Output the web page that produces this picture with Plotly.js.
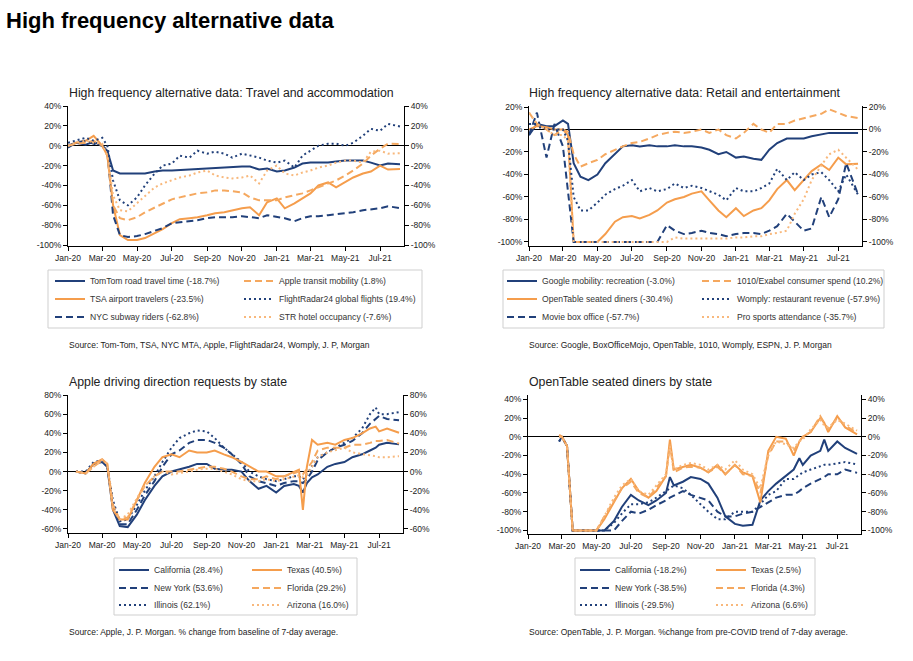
<!DOCTYPE html>
<html><head><meta charset="utf-8">
<script src="https://cdn.plot.ly/plotly-3.0.1.min.js"></script>
<style>html,body{margin:0;padding:0;background:#fff}#chart{width:913px;height:661px}</style>
</head><body><div id="chart"></div>
<script>
// ---------- dates ----------
const datesTop = ['2020-01-01','2020-01-15','2020-02-01','2020-02-15','2020-03-01','2020-03-10','2020-03-20','2020-04-01','2020-04-15','2020-05-01','2020-05-15','2020-06-01','2020-06-15','2020-07-01','2020-07-15','2020-08-01','2020-08-15','2020-09-01','2020-09-15','2020-10-01','2020-10-15','2020-11-01','2020-11-15','2020-12-01','2020-12-15','2021-01-01','2021-01-15','2021-02-01','2021-02-15','2021-03-01','2021-03-15','2021-04-01','2021-04-15','2021-05-01','2021-05-15','2021-06-01','2021-06-15','2021-07-01','2021-07-15','2021-08-05'];
const datesApple = ['2020-01-15','2020-02-01','2020-02-15','2020-03-01','2020-03-10','2020-03-20','2020-04-01','2020-04-15','2020-05-01','2020-05-15','2020-06-01','2020-06-15','2020-07-01','2020-07-15','2020-08-01','2020-08-15','2020-09-01','2020-09-15','2020-10-01','2020-10-15','2020-11-01','2020-11-15','2020-12-01','2020-12-15','2021-01-01','2021-01-15','2021-02-01','2021-02-10','2021-02-17','2021-02-24','2021-03-05','2021-03-15','2021-04-01','2021-04-15','2021-05-01','2021-05-15','2021-06-01','2021-06-15','2021-06-25','2021-07-01','2021-07-15','2021-08-05'];
const datesOT = ['2020-02-25','2020-03-01','2020-03-10','2020-03-20','2020-04-01','2020-04-15','2020-05-01','2020-05-15','2020-06-01','2020-06-15','2020-07-01','2020-07-15','2020-08-01','2020-08-15','2020-09-01','2020-09-08','2020-09-15','2020-10-01','2020-10-15','2020-11-01','2020-11-15','2020-12-01','2020-12-15','2021-01-01','2021-01-15','2021-02-01','2021-02-15','2021-03-01','2021-03-15','2021-04-01','2021-04-15','2021-04-25','2021-05-01','2021-05-15','2021-06-01','2021-06-08','2021-06-15','2021-07-01','2021-07-15','2021-08-05'];

// ---------- chart 1: travel and accommodation ----------
const tomtom = [-2,3,1,4,0,-5,-25,-28,-28,-28,-28,-26,-25,-25,-24.5,-24,-23.5,-23,-23,-22,-21.5,-21,-21,-24,-23,-26,-25,-22,-18,-17,-17,-17,-16,-15,-15,-15,-17,-20,-18,-18.7];
const tsa = [0,3,5,10,0,-10,-60,-90,-95,-95,-93,-88,-84,-78,-74,-73,-72,-70,-68,-67,-65,-63,-62,-70,-57,-53,-63,-58,-53,-48,-40,-37,-42,-37,-32,-28,-26,-20,-24,-23.5];
const nycSubway = [0,3,5,2,0,-5,-70,-90,-92,-91,-89,-86,-83,-78,-77,-76,-75,-73,-72,-72,-72,-71,-72,-73,-70,-72,-73,-76,-73,-71,-71,-70,-69,-68,-67,-65,-64,-63,-61,-62.8];
const appleTransit = [0,2,3,5,0,-10,-60,-73,-75,-72,-67,-62,-58,-54,-52,-50,-48,-47,-45,-45,-46,-47,-52,-55,-55,-55,-52,-50,-48,-45,-42,-38,-35,-30,-25,-18,-10,-3,2,1.8];
const flightRadar = [3,5,8,5,8,0,-35,-55,-60,-52,-40,-28,-20,-18,-10,-12,-5,-8,-6,-8,-12,-8,-10,-12,-15,-17,-15,-22,-10,-5,0,2,2,0,3,10,17,15,22,19.4];
const strHotel = [0,3,5,3,2,-10,-50,-65,-66,-58,-50,-42,-38,-35,-32,-30,-27,-25,-30,-32,-33,-32,-30,-38,-25,-20,-28,-30,-27,-25,-22,-20,-17,-15,-15,-17,-6,-5,-8,-7.6];

// ---------- chart 2: retail and entertainment ----------
const googleRec = [-5,5,3,3,8,5,-30,-42,-45,-40,-30,-22,-15,-14,-15,-14,-15,-15,-14,-15,-15,-16,-18,-22,-20,-25,-24,-26,-27,-18,-12,-8,-8,-8,-6,-4,-3,-3,-3,-3];
const openTable = [0,3,2,0,0,-5,-100,-100,-100,-100,-93,-82,-78,-77,-79,-76,-72,-65,-62,-60,-57,-55,-63,-72,-78,-70,-77,-72,-70,-63,-53,-45,-54,-45,-37,-31,-36,-25,-31,-30.4];
const movieBox = [-5,15,-25,5,-15,-55,-100,-100,-100,-100,-100,-100,-100,-100,-100,-100,-100,-85,-90,-93,-92,-90,-92,-93,-95,-93,-92,-92,-93,-90,-86,-75,-82,-90,-88,-60,-78,-62,-30,-57.7];
const exabel = [15,5,0,-5,0,-2,-22,-33,-30,-27,-22,-18,-15,-12,-11,-8,-5,-3,-2,-3,-2,0,-3,0,-5,-8,-3,5,0,-3,5,5,8,10,12,14,18,15,12,10.2];
const womply = [5,5,0,0,0,-10,-60,-72,-72,-65,-58,-53,-50,-45,-55,-52,-55,-53,-48,-52,-50,-52,-55,-58,-63,-52,-55,-55,-52,-48,-35,-45,-38,-45,-40,-38,-45,-55,-40,-57.9];
const proSports = [15,5,0,-5,-5,-10,-100,-100,-100,-100,-100,-100,-100,-100,-100,-100,-100,-100,-96,-97,-97,-97,-97,-97,-97,-96,-96,-95,-95,-93,-92,-90,-75,-62,-45,-32,-22,-18,-25,-35.7];

// ---------- chart 3: Apple driving by state ----------
const caDrive = [0,-2,8,10,5,-40,-57,-58,-45,-30,-15,-5,0,2,5,8,8,3,2,2,0,-10,-18,-15,-22,-15,-13,-15,-22,-12,-6,-3,5,8,10,15,18,22,25,28,30,28.4];
const nyDrive = [0,-2,8,12,5,-35,-55,-55,-40,-25,-10,5,18,22,30,33,33,30,25,18,8,-5,-10,-12,-15,-12,-10,-10,-12,-8,0,12,20,25,28,32,40,50,55,58,55,53.6];
const ilDrive = [0,0,10,12,5,-30,-52,-50,-35,-20,-5,10,25,35,40,43,42,35,25,18,10,0,-5,-8,-10,-8,-5,-5,-8,-3,5,15,20,25,30,35,45,60,67,60,60,62.1];
const txDrive = [0,-2,8,13,8,-40,-50,-50,-30,-12,5,15,18,15,22,20,20,22,18,15,10,5,0,0,-5,-5,0,2,-40,5,33,28,30,28,33,35,40,45,47,42,45,40.5];
const flDrive = [0,-2,5,12,8,-35,-50,-48,-30,-15,-5,0,0,0,2,3,5,5,3,0,-5,-8,-8,-5,-8,-5,-2,0,-3,3,10,22,25,25,25,28,28,30,32,32,33,29.2];
const azDrive = [0,-2,5,12,8,-38,-50,-45,-28,-15,-5,0,-3,-2,0,2,3,3,0,-3,-8,-10,-10,-8,-10,-8,-5,-4,-6,-3,5,15,20,22,25,20,18,17,16,15,15,16];

// ---------- chart 4: OpenTable by state ----------
const caDine = [0,0,-10,-100,-100,-100,-100,-100,-90,-75,-62,-68,-73,-68,-60,-43,-52,-48,-43,-45,-50,-65,-85,-93,-95,-94,-68,-58,-50,-42,-35,-23,-30,-20,-15,-3,-15,-5,-12,-18.2];
const nyDine = [-5,0,-10,-100,-100,-100,-100,-100,-100,-90,-80,-82,-78,-73,-68,-65,-63,-58,-62,-65,-68,-80,-85,-85,-82,-80,-75,-70,-65,-62,-62,-58,-55,-50,-45,-43,-40,-40,-35,-38.5];
const ilDine = [-5,0,-10,-100,-100,-100,-100,-100,-92,-82,-72,-72,-70,-65,-58,-55,-52,-55,-62,-72,-80,-88,-88,-80,-80,-80,-72,-62,-58,-45,-45,-40,-38,-35,-32,-30,-30,-28,-27,-29.5];
const txDine = [2,0,-10,-100,-100,-100,-100,-88,-70,-55,-45,-58,-65,-58,-42,-3,-35,-32,-30,-33,-38,-30,-40,-30,-38,-42,-70,-15,0,-2,-20,-5,0,5,20,15,5,22,10,2.5];
const flDine = [0,0,-10,-100,-100,-100,-100,-85,-68,-55,-48,-60,-65,-55,-42,-8,-38,-33,-32,-33,-38,-32,-40,-30,-40,-42,-60,-20,-5,-5,-15,-5,0,5,22,15,8,20,12,4.3];
const azDine = [0,0,-10,-100,-100,-100,-100,-85,-65,-52,-45,-58,-62,-52,-40,-10,-35,-30,-28,-30,-35,-30,-35,-25,-35,-40,-55,-18,-5,-8,-12,-5,-3,8,18,12,10,18,14,6.6];

// ---------- tick labels ----------
const xTickVals = ['2020-01-01','2020-03-01','2020-05-01','2020-07-01','2020-09-01','2020-11-01','2021-01-01','2021-03-01','2021-05-01','2021-07-01'];
const xTickText = ['Jan-20','Mar-20','May-20','Jul-20','Sep-20','Nov-20','Jan-21','Mar-21','May-21','Jul-21'];
const yTicks1 = [-100,-80,-60,-40,-20,0,20,40];
const yText1 = ['-100%','-80%','-60%','-40%','-20%','0%','20%','40%'];
const yTicks2 = [-100,-80,-60,-40,-20,0,20];
const yText2 = ['-100%','-80%','-60%','-40%','-20%','0%','20%'];
const yTicks3 = [-60,-40,-20,0,20,40,60,80];
const yText3 = ['-60%','-40%','-20%','0%','20%','40%','60%','80%'];
const yTicks4 = [-100,-80,-60,-40,-20,0,20,40];
const yText4 = ['-100%','-80%','-60%','-40%','-20%','0%','20%','40%'];

// ---------- styles ----------
const NAVY = '#21407a', ORANGE = '#f59d4c', ORANGE2 = '#f5a85f', ORANGE3 = '#f8b87c';
const DASH = '7px,4px', DOT = '2px,3px';
const FONT = 'Liberation Sans, Arial, sans-serif';

const W = 913, H = 661;
const px = v => v / W, py = v => 1 - v / H;

// legend slot positions: [legend id, legend x, row centre y]
const legendSlots = [];
function tr(x, y, name, color, dash, xa, ya, lx, ly) {
  const id = 'legend' + (legendSlots.length ? legendSlots.length + 1 : '');
  legendSlots.push([id, lx, ly]);
  return {type:'scatter', mode:'lines', x:x, y:y, name:name, xaxis:xa, yaxis:ya, legend:id,
    line:{color:color, width:2, dash:dash}, hoverinfo:'skip'};
}
const R1 = [281, 299, 317], R2 = [570, 588, 605];
const traces = [
  tr(datesTop, tomtom, 'TomTom road travel time (-18.7%)', NAVY, 'solid', 'x', 'y', 50, R1[0]),
  tr(datesTop, tsa, 'TSA airport travelers (-23.5%)', ORANGE, 'solid', 'x', 'y', 50, R1[1]),
  tr(datesTop, nycSubway, 'NYC subway riders (-62.8%)', NAVY, DASH, 'x', 'y', 50, R1[2]),
  tr(datesTop, appleTransit, 'Apple transit mobility (1.8%)', ORANGE2, DASH, 'x', 'y', 239, R1[0]),
  tr(datesTop, flightRadar, 'FlightRadar24 global flights (19.4%)', NAVY, DOT, 'x', 'y', 239, R1[1]),
  tr(datesTop, strHotel, 'STR hotel occupancy (-7.6%)', ORANGE3, DOT, 'x', 'y', 239, R1[2]),

  tr(datesTop, googleRec, 'Google mobility: recreation (-3.0%)', NAVY, 'solid', 'x2', 'y2', 502, R1[0]),
  tr(datesTop, openTable, 'OpenTable seated diners (-30.4%)', ORANGE, 'solid', 'x2', 'y2', 502, R1[1]),
  tr(datesTop, movieBox, 'Movie box office (-57.7%)', NAVY, DASH, 'x2', 'y2', 502, R1[2]),
  tr(datesTop, exabel, '1010/Exabel consumer spend (10.2%)', ORANGE2, DASH, 'x2', 'y2', 697, R1[0]),
  tr(datesTop, womply, 'Womply: restaurant revenue (-57.9%)', NAVY, DOT, 'x2', 'y2', 697, R1[1]),
  tr(datesTop, proSports, 'Pro sports attendance (-35.7%)', ORANGE3, DOT, 'x2', 'y2', 697, R1[2]),

  tr(datesApple, caDrive, 'California (28.4%)', NAVY, 'solid', 'x3', 'y3', 114, R2[0]),
  tr(datesApple, nyDrive, 'New York (53.6%)', NAVY, DASH, 'x3', 'y3', 114, R2[1]),
  tr(datesApple, ilDrive, 'Illinois (62.1%)', NAVY, DOT, 'x3', 'y3', 114, R2[2]),
  tr(datesApple, txDrive, 'Texas (40.5%)', ORANGE, 'solid', 'x3', 'y3', 247, R2[0]),
  tr(datesApple, flDrive, 'Florida (29.2%)', ORANGE2, DASH, 'x3', 'y3', 247, R2[1]),
  tr(datesApple, azDrive, 'Arizona (16.0%)', ORANGE3, DOT, 'x3', 'y3', 247, R2[2]),

  tr(datesOT, caDine, 'California (-18.2%)', NAVY, 'solid', 'x4', 'y4', 575, R2[0]),
  tr(datesOT, nyDine, 'New York (-38.5%)', NAVY, DASH, 'x4', 'y4', 575, R2[1]),
  tr(datesOT, ilDine, 'Illinois (-29.5%)', NAVY, DOT, 'x4', 'y4', 575, R2[2]),
  tr(datesOT, txDine, 'Texas (2.5%)', ORANGE, 'solid', 'x4', 'y4', 711, R2[0]),
  tr(datesOT, flDine, 'Florida (4.3%)', ORANGE2, DASH, 'x4', 'y4', 711, R2[1]),
  tr(datesOT, azDine, 'Arizona (6.6%)', ORANGE3, DOT, 'x4', 'y4', 711, R2[2])
];
// transparent copies so the right-hand mirror axes get drawn
[['x','y5',tomtom,datesTop],['x2','y6',googleRec,datesTop],['x3','y7',caDrive,datesApple],['x4','y8',caDine,datesOT]].forEach(function(s){
  traces.push({type:'scatter', mode:'lines', x:s[3], y:s[2], xaxis:s[0], yaxis:s[1], showlegend:false,
    opacity:0, line:{width:0.1, color:'#fff'}, hoverinfo:'skip'});
});

const tickFont = {family: FONT, size: 8.5, color: '#222'};
function xax(l, r, anchor) {
  return {domain:[px(l), px(r)], anchor:anchor, type:'date', range:['2020-01-01','2021-08-12'],
    tickmode:'array', tickvals:xTickVals, ticktext:xTickText, showgrid:false, zeroline:false,
    showline:true, linecolor:'#000', linewidth:1, ticks:'outside', ticklen:4, tickcolor:'#000',
    tickfont:tickFont, fixedrange:true, automargin:false};
}
function yax(t, b, range, tv, tt, anchor) {
  return {domain:[py(b), py(t)], anchor:anchor, range:range, tickmode:'array', tickvals:tv, ticktext:tt,
    showgrid:false, zeroline:true, zerolinecolor:'#000', zerolinewidth:1,
    showline:true, linecolor:'#000', linewidth:1, ticks:'outside', ticklen:4, tickcolor:'#000',
    tickfont:tickFont, fixedrange:true, automargin:false};
}
function yRight(base, over, anchor) {
  const a = Object.assign({}, base);
  delete a.domain;
  a.overlaying = over; a.side = 'right'; a.anchor = anchor; a.zeroline = false;
  return a;
}
const y1 = yax(106, 246, [-101, 40], yTicks1, yText1, 'x');
const y2 = yax(106, 246, [-103.6, 20.9], yTicks2, yText2, 'x2');
const y3 = yax(395, 533, [-64.2, 80], yTicks3, yText3, 'x3');
const y4 = yax(395, 534, [-103.8, 44.6], yTicks4, yText4, 'x4');

const legFont = {family: FONT, size: 8.6, color: '#333'};
function ann(text, x, y, size, bold) {
  return {text: bold ? '<b>'+text+'</b>' : text, x:px(x), y:py(y), xref:'paper', yref:'paper',
    xanchor:'left', yanchor:'middle', showarrow:false, font:{family:FONT, size:size, color: bold ? '#000' : '#222'}};
}
function box(l, t, r, b) {
  return {type:'rect', xref:'paper', yref:'paper', x0:px(l), x1:px(r), y0:py(b), y1:py(t),
    line:{color:'#cfcfcf', width:1}, fillcolor:'rgba(0,0,0,0)'};
}

const layout = {
  width: W, height: H, margin:{l:0, r:0, t:0, b:0, autoexpand:false}, paper_bgcolor:'#fff', plot_bgcolor:'rgba(0,0,0,0)',
  font:{family:FONT, color:'#222'},
  xaxis: xax(68, 404, 'y'), yaxis: y1, yaxis5: yRight(y1, 'y', 'x'),
  xaxis2: xax(529, 862, 'y2'), yaxis2: y2, yaxis6: yRight(y2, 'y2', 'x2'),
  xaxis3: xax(68, 403, 'y3'), yaxis3: y3, yaxis7: yRight(y3, 'y3', 'x3'),
  xaxis4: xax(528, 861, 'y4'), yaxis4: y4, yaxis8: yRight(y4, 'y4', 'x4'),
  shapes: [box(48, 270, 422, 328), box(503, 270, 884, 328), box(114, 558, 357, 615), box(575, 558, 815, 615)],
  annotations: [
    ann('High frequency alternative data', 4, 21, 22, true),
    ann('High frequency alternative data: Travel and accommodation', 67, 93, 12.3, false),
    ann('High frequency alternative data: Retail and entertainment', 527, 93, 12.3, false),
    ann('Apple driving direction requests by state', 67, 382, 12.3, false),
    ann('OpenTable seated diners by state', 527, 382, 12.3, false),
    ann('Source: Tom-Tom, TSA, NYC MTA, Apple, FlightRadar24, Womply, J. P, Morgan', 67, 345, 8.5, false),
    ann('Source: Google, BoxOfficeMojo, OpenTable, 1010, Womply, ESPN, J. P. Morgan', 527, 345, 8.5, false),
    ann('Source: Apple, J. P. Morgan. % change from baseline of 7-day average.', 67, 632, 8.5, false),
    ann('Source: OpenTable, J. P. Morgan. %change from pre-COVID trend of 7-day average.', 527, 632, 8.5, false)
  ]
};
legendSlots.forEach(function(s){
  layout[s[0]] = {x:px(s[1]), y:py(s[2]), xanchor:'left', yanchor:'middle', orientation:'v',
    bgcolor:'rgba(0,0,0,0)', borderwidth:0, font:legFont, itemwidth:30};
});
Plotly.newPlot('chart', traces, layout, {displayModeBar:false, staticPlot:true});
</script></body></html>
